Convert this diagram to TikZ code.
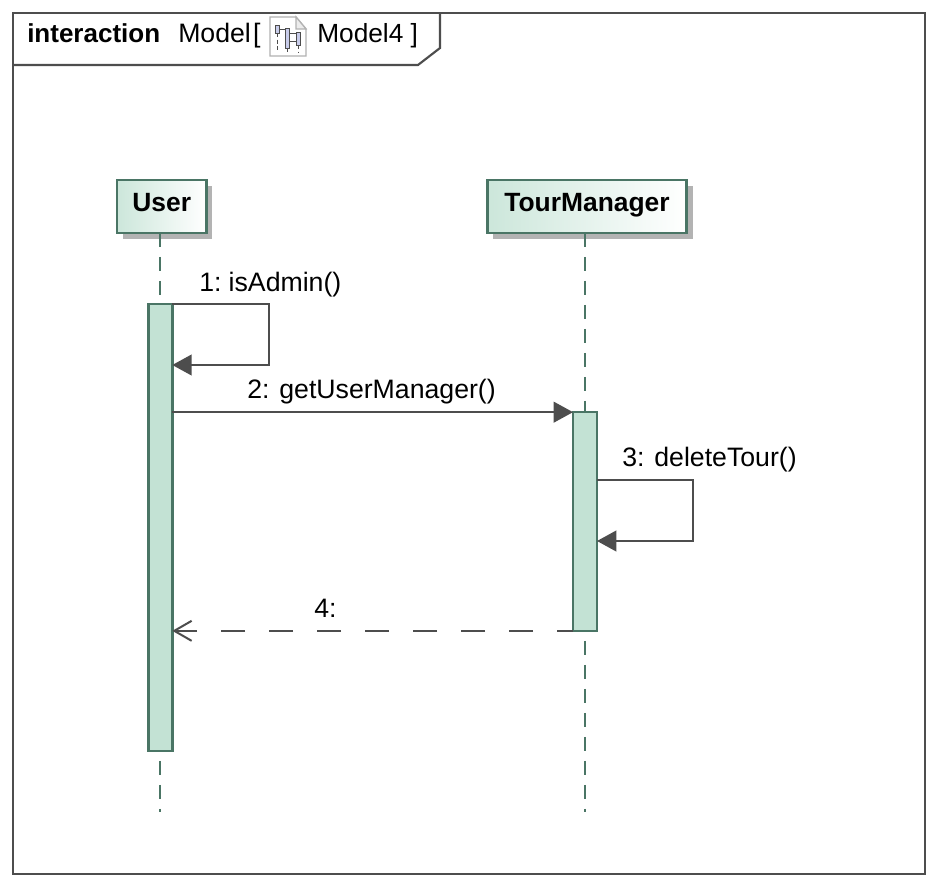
\documentclass[tikz,border=0pt]{standalone}
\usepackage{fontspec}
\setmainfont{Liberation Sans}
\usetikzlibrary{arrows.meta}
\definecolor{framegray}{HTML}{4D4D4D}
\definecolor{linegreen}{HTML}{4A7565}
\definecolor{barfill}{HTML}{C3E2D4}
\definecolor{shadowgray}{HTML}{B3B3B3}
\definecolor{iconblue}{HTML}{C8CCEA}
\tikzset{
	lifebox/.style={draw=linegreen, line width=1.8pt, left color=barfill!85!white, right color=white, minimum height=39.5pt, inner sep=0pt, outer sep=0pt, text height=14pt, text depth=7.2pt, font=\fontsize{19.8}{22}\selectfont\bfseries},
	boxshadow/.style={fill=shadowgray, draw=none, inner sep=0pt},
	bar/.style={draw=linegreen, line width=1.8pt, fill=barfill, inner sep=0pt, outer sep=0pt},
	lifeline/.style={draw=linegreen, line width=1.5pt, dash pattern=on 10.5pt off 7.5pt},
	msg/.style={draw=framegray, line width=1.5pt, -{Triangle[length=14.5pt,width=15.5pt]}},
	reply/.style={draw=framegray, line width=1.6pt, dash pattern=on 18pt off 18pt, dash phase=6pt, -{Straight Barb[length=13pt,width=15pt,line width=1.5pt]}},
	msglabel/.style={anchor=base west, inner sep=0pt, font=\fontsize{20}{22}\selectfont},
	iconbar/.style={draw=framegray, line width=0.6pt, fill=iconblue, inner sep=0pt},
	iconline/.style={draw=framegray, line width=0.5pt},
}
\begin{document}
\begin{tikzpicture}[x=0.75pt, y=-0.75pt]
	\useasboundingbox (0,0) rectangle (942,888);
	\fill[white] (0,0) rectangle (942,888);

	% frame and its tab
	\draw[framegray, line width=1.6pt] (13,13) rectangle (925,874);
	\draw[framegray, line width=1.6pt] (13,65) -- (418,65) -- (440,48) -- (440,13);
	\node[msglabel, font=\fontsize{19.5}{22}\selectfont\bfseries] (kind) at (27,43) {interaction};
	\node[msglabel] (model) at (178,43) {Model\hspace{0.08em}[};
	\node[msglabel, font=\fontsize{19.7}{22}\selectfont] (modelname) at (317,43) {Model4 ]};

	% diagram icon
	\draw[gray!60, line width=1.1pt, fill=white] (270,17) -- (296,17) -- (306,29) -- (306,56) -- (270,56) -- cycle;
	\draw[gray!60, line width=0.9pt, fill=gray!15] (296,17) -- (296,29) -- (306,29) -- cycle;
	\draw[iconline, densely dashed] (277,33) -- (277,52);
	\draw[iconline, densely dashed] (287,48) -- (287,53);
	\draw[iconline, densely dashed] (298,45) -- (298,52);
	\draw[iconbar] (275,25) rectangle (279,33);
	\draw[iconbar] (285,28) rectangle (289,48);
	\draw[iconbar] (296.5,32) rectangle (300,45);
	\draw[iconline] (279,29) -- (285,29);
	\draw[iconline] (289,33) -- (296.5,33);
	\draw[iconline] (289,41) -- (296.5,41);

	% lifelines
	\node[boxshadow, minimum width=67pt, minimum height=39.5pt] at (167.5,212.5) {};
	\node[boxshadow, minimum width=149.5pt, minimum height=39.5pt] at (593,212.5) {};
	\node[lifebox, minimum width=67pt] (user) at (161.7,206.5) {User};
	\node[lifebox, minimum width=149.5pt] (tour) at (587,206.5) {TourManager};
	\coordinate (userend) at (160.3,812);
	\coordinate (tourend) at (585,812);
	\draw[lifeline] (user.south -| userend) -- (userend);
	\draw[lifeline] (tour.south -| tourend) -- (tourend);

	% activation bars
	\node[bar, minimum width=18pt, minimum height=335pt] (userbar) at (160.3,527.5) {};
	\node[bar, minimum width=18pt, minimum height=164pt] (tourbar) at (585,521.5) {};

	% messages
	\coordinate (selfa) at (269,304);
	\coordinate (selfb) at (269,365);
	\draw[msg] (selfa -| userbar.east) -- (selfa) -- (selfb) -- (selfb -| userbar.east);
	\draw[msg] (userbar.east |- tourbar.north) -- (tourbar.north west);
	\coordinate (selfc) at (693,480);
	\coordinate (selfd) at (693,541);
	\draw[msg] (selfc -| tourbar.east) -- (selfc) -- (selfd) -- (selfd -| tourbar.east);
	\draw[reply] (tourbar.south west) -- (userbar.east |- tourbar.south);

	\node[msglabel] (m1) at (199,291) {1:\hspace{-0.1em} isAdmin()};
	\node[msglabel] (m2) at (247,398) {2: getUserManager()};
	\node[msglabel] (m3) at (622,466) {3: deleteTour()};
	\node[msglabel] (m4) at (314,617) {4:};
\end{tikzpicture}
\end{document}
